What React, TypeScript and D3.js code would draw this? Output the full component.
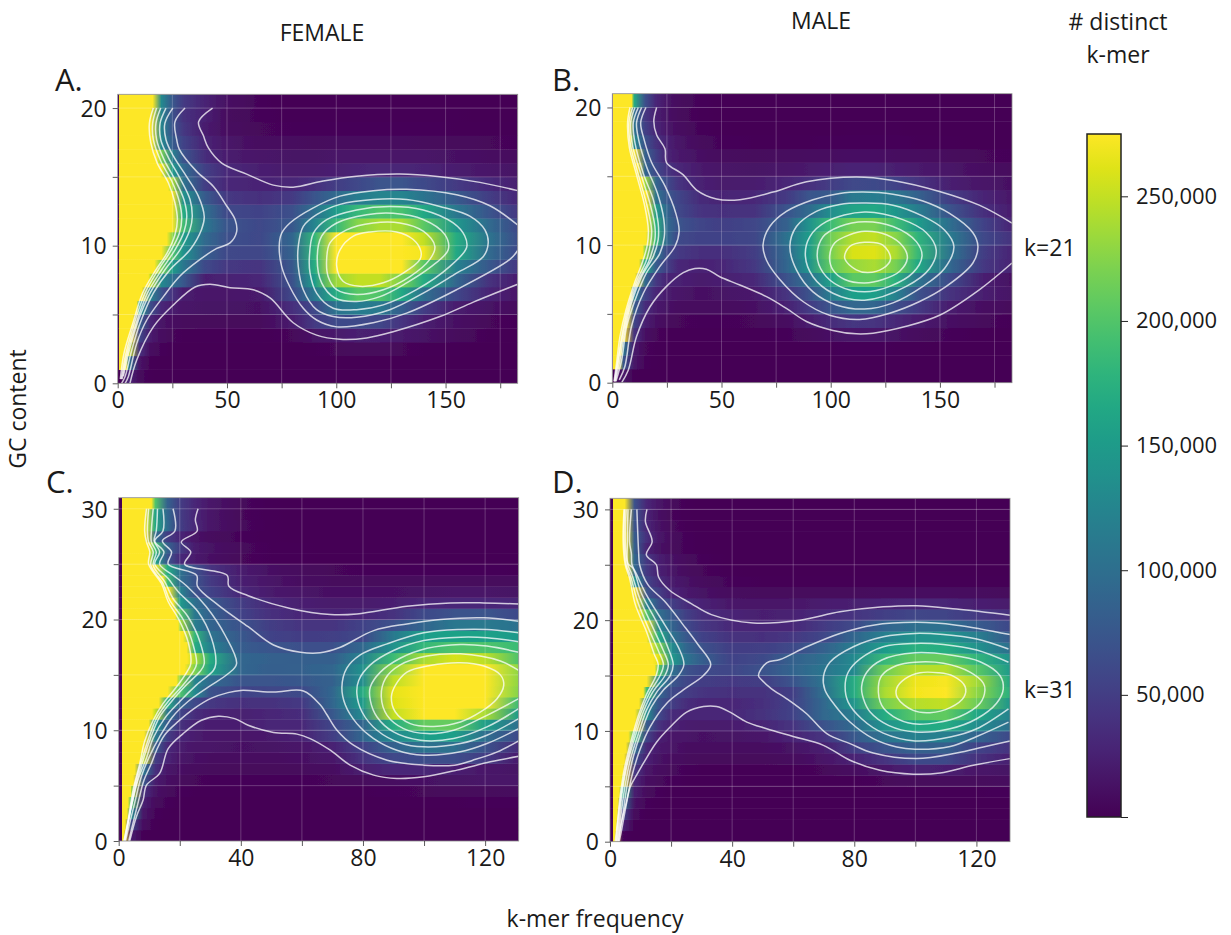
import React, { useEffect, useRef } from 'react';
import * as d3 from 'd3';

// values are thousands of distinct k-mers, W marks cells under the saturated wall
const W = 300;
const VALUE_MIN = 1;
const VALUE_MAX = 275;

const colsK21 = [5, 10, 15, 20, 25, 30, 40, 50, 65, 80, 90, 100, 110, 120, 130, 140, 155, 170, 183];
const colsK31 = [4, 8, 12, 16, 20, 25, 30, 40, 50, 60, 70, 80, 90, 100, 110, 120, 131];

const wallA = [0, 3.8, 4.9, 5.6, 7, 8.7, 11, 14, 16.8, 19.7, 22.4, 24.4, 24.7, 24.3, 23, 19.7, 17.8, 15.5, 14.3, 14.8, 16];
const wallB = [0, 2.7, 4, 5, 6.2, 7.3, 8.5, 10.4, 12.2, 13.9, 15.4, 16, 16, 15.4, 13.7, 11.6, 10, 8.4, 7.8, 7.8, 8.8];
const wallC = [1.6, 2, 2.7, 3, 3.9, 4.7, 5.2, 6.9, 7.6, 8.3, 9.8, 10.9, 13.1, 16, 18.9, 21.6, 22.4, 22.2, 21.1, 19.5, 18.5, 17.8, 16.2, 14.5, 11.8, 9.8, 9.8, 8.6, 8.5, 8.5, 10.7];
const wallD = [1.5, 1.9, 2.2, 2.5, 3, 3.6, 4.1, 4.6, 5.2, 6, 7.4, 8.2, 9.5, 10.9, 12, 14.6, 14.1, 13, 11.9, 10.8, 9.7, 8.6, 7.5, 6.4, 5.4, 4.8, 4.8, 4.8, 4.6, 4.6, 4.8];

const heatA = [
  [30, 8, 3, 2, 1, 1, 1, 1, 1, 1, 1, 1, 1, 1, 1, 1, 1, 1, 1],
  [110, 15, 4, 2, 2, 1, 1, 1, 1, 1, 1, 2, 2, 2, 2, 1, 1, 1, 1],
  [250, 40, 10, 5, 3, 2, 2, 2, 2, 2, 4, 6, 7, 7, 6, 4, 3, 2, 1],
  [W, 60, 22, 10, 6, 4, 3, 3, 3, 6, 14, 20, 25, 24, 20, 14, 8, 4, 2],
  [W, 85, 30, 15, 10, 8, 7, 7, 7, 22, 48, 62, 62, 58, 42, 24, 12, 6, 4],
  [W, 150, 65, 32, 22, 17, 14, 14, 13, 38, 60, 105, 115, 112, 82, 50, 22, 14, 8],
  [W, W, 120, 70, 42, 22, 18, 18, 20, 62, 110, 170, 205, 200, 165, 100, 58, 28, 16],
  [W, W, 250, 130, 100, 75, 24, 26, 30, 70, 150, 235, 250, 250, 220, 170, 90, 40, 22],
  [W, W, W, 220, 150, 110, 62, 45, 42, 75, 170, 278, 310, 310, 280, 205, 120, 75, 45],
  [W, W, W, 280, 200, 140, 82, 60, 58, 85, 180, 300, 330, 335, 320, 270, 165, 95, 62],
  [W, W, W, W, 230, 150, 95, 68, 60, 90, 180, 280, 320, 320, 300, 250, 170, 105, 65],
  [W, W, W, W, W, 190, 110, 72, 60, 75, 125, 185, 225, 240, 240, 205, 145, 95, 62],
  [W, W, W, W, W, 170, 100, 60, 55, 68, 100, 150, 185, 200, 195, 165, 110, 72, 45],
  [W, W, W, W, W, 140, 78, 45, 38, 48, 72, 95, 115, 125, 125, 105, 78, 50, 32],
  [W, W, W, W, 240, 105, 50, 32, 27, 30, 38, 50, 60, 72, 72, 62, 48, 34, 24],
  [W, W, W, 270, 150, 95, 52, 33, 24, 20, 21, 24, 28, 30, 30, 28, 22, 18, 14],
  [W, W, W, 220, 120, 72, 36, 22, 16, 14, 14, 15, 16, 16, 16, 15, 13, 11, 9],
  [W, W, W, 130, 80, 55, 28, 16, 10, 9, 8, 9, 9, 9, 9, 8, 7, 6, 5],
  [W, W, W, 125, 72, 45, 22, 10, 6, 5, 5, 5, 5, 5, 5, 5, 4, 3, 3],
  [W, W, W, 125, 70, 40, 26, 9, 5, 3, 3, 3, 3, 3, 3, 3, 3, 2, 2],
  [W, W, W, 130, 75, 48, 27, 12, 5, 2, 2, 2, 2, 2, 2, 2, 2, 2, 2],
];

const heatB = [
  [18, 3, 1, 1, 1, 1, 1, 1, 1, 1, 1, 1, 1, 1, 1, 1, 1, 1, 1],
  [75, 16, 5, 3, 2, 2, 1, 1, 1, 1, 1, 2, 2, 2, 2, 1, 1, 1, 1],
  [110, 20, 6, 4, 3, 2, 2, 2, 2, 2, 3, 4, 5, 5, 4, 3, 2, 2, 1],
  [W, 42, 12, 6, 4, 3, 3, 3, 3, 5, 8, 13, 18, 18, 14, 9, 5, 3, 2],
  [W, 58, 25, 12, 8, 6, 5, 5, 6, 10, 22, 35, 44, 42, 32, 22, 12, 7, 4],
  [W, 80, 36, 20, 14, 10, 9, 9, 12, 26, 48, 72, 92, 90, 66, 48, 22, 11, 7],
  [W, 120, 55, 30, 22, 17, 12, 14, 20, 42, 70, 115, 155, 155, 120, 70, 40, 24, 14],
  [W, W, 95, 45, 28, 26, 20, 24, 32, 70, 100, 155, 205, 208, 175, 105, 62, 24, 12],
  [W, W, 165, 80, 52, 32, 26, 30, 45, 90, 140, 208, 232, 240, 218, 165, 90, 45, 27],
  [W, W, 230, 108, 60, 48, 38, 38, 50, 92, 150, 218, 258, 262, 240, 185, 105, 50, 28],
  [W, W, W, 180, 92, 62, 55, 55, 58, 104, 150, 215, 245, 250, 225, 178, 112, 60, 40],
  [W, W, W, 175, 95, 72, 57, 52, 58, 85, 140, 188, 218, 220, 190, 150, 98, 55, 28],
  [W, W, W, 150, 90, 62, 42, 38, 40, 72, 95, 135, 160, 165, 145, 115, 70, 38, 22],
  [W, W, W, 105, 75, 58, 35, 28, 31, 48, 72, 78, 112, 115, 108, 85, 50, 28, 18],
  [W, W, 235, 90, 62, 42, 26, 20, 22, 30, 38, 50, 60, 62, 55, 42, 24, 16, 12],
  [W, W, 90, 62, 42, 32, 20, 15, 14, 16, 20, 24, 28, 27, 24, 20, 15, 11, 8],
  [W, W, 85, 52, 28, 20, 12, 9, 8, 9, 10, 11, 12, 12, 11, 10, 8, 6, 5],
  [W, 130, 68, 40, 26, 16, 8, 5, 4, 4, 4, 5, 5, 5, 5, 4, 3, 2, 2],
  [W, 105, 52, 30, 18, 10, 5, 3, 2, 2, 2, 2, 3, 3, 3, 2, 2, 2, 1],
  [W, 100, 45, 25, 14, 8, 4, 2, 1, 1, 1, 1, 1, 1, 1, 1, 1, 1, 1],
  [W, 170, 68, 30, 16, 9, 5, 3, 2, 1, 1, 1, 1, 1, 1, 1, 1, 1, 1],
];

const heatC = [
  [22, 3, 1, 1, 1, 1, 1, 1, 1, 1, 1, 1, 1, 1, 1, 1, 1],
  [62, 10, 3, 2, 1, 1, 1, 1, 1, 1, 1, 1, 1, 1, 1, 1, 1],
  [135, 18, 5, 3, 2, 2, 1, 1, 1, 1, 1, 1, 1, 1, 1, 1, 1],
  [200, 26, 8, 5, 3, 2, 2, 2, 2, 2, 2, 2, 3, 4, 4, 5, 5],
  [240, 40, 14, 8, 5, 4, 3, 3, 3, 3, 4, 4, 5, 6, 7, 8, 9],
  [W, 75, 22, 12, 8, 6, 5, 5, 5, 5, 6, 8, 11, 13, 14, 15, 15],
  [W, 110, 38, 18, 12, 9, 8, 7, 7, 8, 10, 24, 32, 30, 24, 18, 14],
  [W, 250, 50, 28, 17, 13, 11, 10, 10, 12, 18, 42, 60, 65, 65, 50, 20],
  [W, W, 80, 33, 22, 17, 15, 13, 14, 17, 26, 55, 85, 105, 100, 70, 35],
  [W, W, 115, 50, 30, 22, 18, 16, 20, 27, 50, 90, 130, 155, 155, 100, 62],
  [W, W, 145, 75, 40, 27, 23, 24, 30, 32, 58, 90, 170, 210, 210, 155, 100],
  [W, W, 250, 110, 58, 36, 28, 25, 30, 36, 75, 130, 250, 280, 280, 240, 150],
  [W, W, W, 170, 88, 60, 45, 38, 40, 47, 90, 150, 262, 300, 310, 280, 188],
  [W, W, W, W, 200, 130, 70, 55, 58, 62, 90, 170, 265, 310, 320, 305, 225],
  [W, W, W, W, 230, 125, 95, 72, 72, 75, 85, 135, 248, 310, 320, 310, 230],
  [W, W, W, W, W, 220, 160, 90, 82, 85, 90, 138, 228, 285, 300, 280, 230],
  [W, W, W, W, W, 240, 170, 90, 85, 82, 82, 122, 188, 240, 258, 248, 198],
  [W, W, W, W, W, 170, 120, 80, 72, 68, 68, 92, 140, 183, 200, 198, 188],
  [W, W, W, W, W, 180, 105, 75, 55, 50, 52, 60, 112, 152, 158, 158, 148],
  [W, W, W, W, 240, 115, 88, 70, 50, 42, 42, 55, 68, 90, 110, 112, 102],
  [W, W, W, W, 205, 110, 85, 55, 38, 30, 27, 30, 40, 62, 70, 72, 62],
  [W, W, W, W, 150, 100, 78, 50, 32, 24, 20, 20, 24, 30, 32, 32, 30],
  [W, W, W, W, 125, 70, 55, 32, 20, 15, 12, 12, 13, 14, 15, 15, 14],
  [W, W, W, 190, 100, 70, 48, 25, 15, 10, 8, 8, 8, 8, 8, 8, 8],
  [W, W, W, 170, 105, 68, 42, 22, 12, 8, 6, 5, 5, 5, 5, 5, 4],
  [W, W, 160, 72, 34, 20, 12, 6, 4, 3, 2, 2, 2, 2, 2, 2, 2],
  [W, W, 190, 85, 50, 22, 14, 7, 4, 3, 2, 2, 2, 2, 2, 2, 2],
  [W, W, 100, 50, 30, 15, 9, 5, 3, 2, 1, 1, 1, 1, 1, 1, 1],
  [W, W, 165, 95, 52, 32, 17, 7, 3, 2, 1, 1, 1, 1, 1, 1, 1],
  [W, W, 160, 90, 50, 30, 16, 6, 3, 2, 1, 1, 1, 1, 1, 1, 1],
  [W, W, 200, 85, 50, 30, 18, 7, 3, 2, 1, 1, 1, 1, 1, 1, 1],
];

const heatD = [
  [6, 1, 1, 1, 1, 1, 1, 1, 1, 1, 1, 1, 1, 1, 1, 1, 1],
  [28, 3, 1, 1, 1, 1, 1, 1, 1, 1, 1, 1, 1, 1, 1, 1, 1],
  [60, 8, 3, 2, 1, 1, 1, 1, 1, 1, 1, 1, 1, 1, 1, 1, 1],
  [105, 14, 5, 3, 2, 2, 2, 2, 2, 2, 2, 2, 2, 2, 2, 2, 2],
  [170, 24, 8, 5, 3, 3, 2, 2, 2, 2, 2, 2, 3, 4, 4, 4, 5],
  [260, 32, 11, 7, 5, 4, 3, 3, 3, 3, 3, 4, 6, 7, 8, 8, 9],
  [W, 45, 16, 10, 7, 5, 4, 4, 4, 4, 6, 10, 18, 26, 24, 16, 14],
  [W, 65, 26, 14, 10, 8, 7, 7, 7, 9, 15, 27, 42, 62, 62, 40, 25],
  [W, 100, 32, 20, 15, 11, 10, 10, 11, 14, 24, 52, 72, 85, 85, 55, 42],
  [W, 190, 55, 25, 18, 15, 13, 14, 18, 28, 42, 75, 105, 120, 118, 88, 62],
  [W, 280, 80, 40, 27, 22, 20, 22, 29, 42, 70, 95, 140, 165, 168, 135, 100],
  [W, W, 135, 60, 36, 29, 30, 32, 40, 55, 92, 115, 170, 205, 208, 165, 122],
  [W, W, 130, 72, 52, 36, 30, 30, 38, 55, 92, 145, 218, 245, 250, 215, 145],
  [W, W, 190, 90, 62, 50, 42, 38, 40, 52, 100, 170, 240, 270, 275, 230, 175],
  [W, W, W, 130, 75, 58, 50, 46, 50, 72, 105, 170, 235, 268, 272, 238, 165],
  [W, W, W, 200, 105, 70, 62, 58, 70, 88, 108, 130, 215, 245, 245, 205, 150],
  [W, W, W, 262, 150, 105, 82, 55, 62, 85, 100, 130, 185, 210, 210, 180, 140],
  [W, W, W, 225, 135, 90, 70, 50, 52, 62, 85, 115, 150, 175, 172, 140, 100],
  [W, W, W, 170, 108, 75, 55, 40, 38, 45, 58, 90, 118, 142, 142, 118, 78],
  [W, W, W, 130, 90, 62, 45, 32, 30, 32, 48, 62, 88, 100, 100, 80, 60],
  [W, W, 200, 100, 78, 52, 38, 28, 24, 26, 34, 42, 52, 58, 56, 48, 38],
  [W, W, 120, 68, 52, 36, 27, 18, 15, 18, 22, 25, 28, 30, 29, 24, 20],
  [W, W, 72, 50, 30, 20, 14, 9, 8, 8, 8, 8, 9, 10, 10, 9, 8],
  [W, 140, 55, 36, 22, 14, 9, 5, 4, 4, 4, 4, 4, 4, 4, 4, 4],
  [W, 95, 45, 26, 16, 9, 6, 3, 2, 2, 2, 2, 2, 2, 2, 2, 2],
  [W, 92, 45, 25, 14, 8, 5, 2, 2, 1, 1, 1, 1, 1, 1, 1, 1],
  [W, 85, 28, 14, 8, 5, 3, 2, 1, 1, 1, 1, 1, 1, 1, 1, 1],
  [W, 80, 38, 18, 9, 5, 3, 1, 1, 1, 1, 1, 1, 1, 1, 1, 1],
  [W, 72, 30, 14, 7, 4, 2, 1, 1, 1, 1, 1, 1, 1, 1, 1, 1],
  [W, 72, 28, 12, 6, 3, 2, 1, 1, 1, 1, 1, 1, 1, 1, 1, 1],
  [W, 70, 30, 16, 8, 4, 2, 1, 1, 1, 1, 1, 1, 1, 1, 1, 1],
];

// contour lines as [k-mer frequency, GC content]
const linesA = [
  [[5.6, 0], [8.7, 1.7], [16.3, 4.1], [25.5, 5.7], [35.4, 7], [42.2, 7.2], [51.4, 6.95], [62, 6.8], [69.7, 6.2], [80.3, 4.4], [91, 3.5], [101.7, 3.2], [113.9, 3.3], [126, 3.75], [147.4, 4.85], [162.7, 5.9], [183, 7.2]],
  [[43.4, 20], [37, 19], [39.2, 18], [41.5, 17.1], [47.6, 16], [59, 15.2], [71.2, 14.4], [80.3, 14.25], [94, 14.7], [109.3, 15.05], [129.1, 15.2], [147.4, 15], [165.7, 14.6], [183, 14]],
  [[30.8, 20], [26.2, 19], [27, 17.7], [28.2, 17], [36.1, 15.4], [43.8, 14.3], [49.8, 12.9], [53.7, 11.9], [54.4, 11], [51.4, 10.2], [45.3, 9.8], [37.7, 9], [28.5, 7.8], [20.9, 6.3], [13.3, 4.6], [8.7, 2.9], [4.9, 0.5], [3.4, 0]],
  [[183, 11.5], [170.3, 12.9], [155, 13.7], [132.2, 14.1], [116.9, 14], [101.7, 13.6], [89.5, 12.75], [78.8, 11.65], [75, 10.9], [73.9, 10], [75, 8.5], [78.8, 7], [84.9, 5.45], [91, 4.6], [100.2, 4.1], [116.9, 4.4], [132.2, 5.1], [155, 6.8], [179.4, 9], [183, 9.65]],
  [[25.2, 20], [21.6, 18.9], [22.1, 17.7], [25.5, 16.5], [31.6, 15], [36.9, 13.6], [39.6, 12.1], [38.4, 11.2], [33.1, 9.7], [23.9, 8.25], [16.3, 6.55], [10.2, 4.35], [6.4, 2.4], [3.4, 0.5], [1.8, 0]],
  [[22.1, 20], [19.4, 18.9], [19.7, 17.7], [23.2, 16.4], [28.5, 14.9], [33.1, 13.35], [34.1, 12.1], [33.1, 11.2], [28.5, 9.7], [21.6, 8.25], [14.8, 6.55], [9.5, 4.6], [5.3, 2.4], [2.6, 0.5]],
  [[19.7, 20], [17.5, 18.9], [17.8, 17.7], [21.2, 16.25], [26.2, 14.8], [30.3, 13.35], [31.6, 12.1], [30.3, 11], [26.2, 9.7], [20.1, 8.25], [13.6, 6.55], [8.4, 4.35], [4.4, 2.2], [2, 0.3]],
  [[17.8, 20], [16, 18.9], [16.3, 17.7], [19.7, 16.15], [24.7, 14.7], [28.2, 13.2], [29.3, 12], [28.2, 10.9], [24.2, 9.6], [18.6, 8.25], [12.5, 6.55], [7.6, 4.35], [3.8, 2.2], [1.6, 0.3]],
  [[16.3, 20], [14.5, 18.9], [15.1, 17.5], [18.1, 16], [23.2, 14.55], [26.2, 13.1], [27.3, 11.9], [26.2, 10.8], [22.7, 9.5], [17.1, 8.15], [11.4, 6.55], [6.9, 4.35], [2.9, 2.2], [1.2, 0.3]],
];
const ringsA = [
  [[82.6, 9.95], [84.9, 11.4], [91, 12.25], [101.7, 13], [116.9, 13.35], [132.2, 13.35], [147.4, 12.85], [161.1, 12.15], [168, 11.15], [169.5, 10.2], [167.2, 9.2], [155, 8], [139.8, 6.55], [124.5, 5.35], [109.3, 4.8], [98.6, 4.85], [91, 5.35], [84.9, 6.8], [82.6, 8.5]],
  [[87.7, 9.2], [89.5, 10.9], [95.6, 11.9], [109.3, 12.6], [124.5, 12.85], [139.8, 12.6], [153.5, 11.65], [158.8, 10.7], [159.6, 9.85], [152, 8.5], [136.7, 6.8], [121.5, 5.7], [109.3, 5.35], [98.6, 5.45], [91, 6.55], [88, 8]],
  [[91.3, 9.2], [93.3, 10.7], [100.2, 11.65], [113.9, 12.25], [126, 12.35], [139.8, 11.9], [149.7, 10.8], [151.2, 9.7], [142.8, 8.4], [132.2, 7.3], [120, 6.3], [109.3, 5.95], [99.4, 6.2], [93.3, 7.3]],
  [[95.6, 9], [97.1, 10.2], [104.7, 11.15], [116.9, 11.65], [129.1, 11.65], [139.8, 11.05], [145.1, 9.95], [142.8, 9], [133.7, 7.75], [121.5, 6.8], [109.3, 6.45], [100.2, 6.8], [96.3, 7.75]],
  [[100.2, 8.5], [101.7, 9.7], [107.8, 10.7], [115.4, 11], [127.6, 11], [135.2, 10.45], [138.7, 9.6], [138.3, 9], [130.6, 8], [121.5, 7.3], [110.8, 7.05], [103.2, 7.4]],
];

const linesB = [
  [[20.3, 20], [19, 19], [20.3, 18], [24.1, 17], [24.8, 16], [32.5, 15.1], [38.6, 14], [47.7, 13.35], [58.4, 13.3], [73.6, 13.85], [88.9, 14.6], [111.7, 14.95], [128.5, 14.7], [149.8, 13.9], [168, 12.9], [183, 11.6]],
  [[183, 8.7], [168, 6.75], [149.8, 4.9], [134.6, 4.1], [119.4, 3.6], [111.7, 3.55], [101, 3.8], [88.9, 4.45], [79.7, 5.4], [70.6, 6.25], [58.4, 7.1], [49.2, 7.7], [43.1, 8.25], [37.8, 8.3], [32.5, 8], [24.8, 7], [17.2, 5.5], [11.1, 3.35], [7.3, 0.9], [4.3, 0]],
  [[15.4, 20], [13, 18.9], [14.5, 17.7], [18, 16], [24.1, 14.3], [29.1, 12.3], [30.6, 11], [28.7, 9.9], [21.8, 8.45], [14.2, 6.5], [8.8, 4.1], [5.8, 1.2], [3.2, 0.2]],
  [[13.4, 20], [11.1, 18.9], [12, 17.7], [15.7, 15.7], [20.6, 13.8], [23.6, 11.85], [23.8, 10.6], [21.8, 9.4], [15.7, 8], [10.4, 6], [6.6, 4.1], [4.3, 1.65], [1.7, 0.1]],
  [[11.9, 20], [9.6, 18.9], [10.4, 17.4], [14.2, 15.2], [18.8, 13.3], [21, 11.6], [21, 10.4], [18.8, 9.2], [13.4, 7.7], [8.8, 5.8], [5.8, 3.8], [3.5, 1.65], [1.4, 0.1]],
  [[10.4, 20], [8.4, 18.9], [9.3, 17.2], [13.4, 15], [17.2, 13.05], [19.5, 11.35], [19.5, 10.4], [16.9, 8.9], [12.2, 7.5], [7.8, 5.5], [5, 3.6], [2.8, 1.6], [1.2, 0.1]],
  [[9.3, 20], [7.6, 18.9], [8.4, 17.2], [12.3, 14.9], [16, 12.8], [18, 11.1], [17.5, 10.1], [15.4, 8.8], [11.1, 7.35], [6.9, 5.3], [4.3, 3.35], [2.4, 1.5], [1, 0.1]],
  [[8.1, 20], [7, 18.9], [7.8, 17.1], [11.1, 15.1], [14.9, 12.8], [16.5, 11.1], [16, 10], [13.9, 8.8], [10.4, 7.35], [6.3, 5.3], [3.5, 3.35], [2, 1.5], [0.8, 0.1]],
];
const ringsB = [
  [[69, 10], [72.1, 11.35], [79.7, 12.45], [91.9, 13.3], [104.1, 13.75], [114.8, 13.85], [128.5, 13.7], [142.2, 13.2], [154.4, 12.3], [165.1, 10.9], [167.4, 9.9], [165.1, 8.7], [152.9, 7], [140.7, 5.9], [127, 5.05], [113.3, 4.6], [99.5, 4.9], [87.3, 5.9], [76.7, 7.5], [70.6, 8.9]],
  [[81.3, 9.9], [84.3, 11.35], [93.4, 12.45], [104.1, 12.95], [115.5, 13.05], [128.5, 12.9], [142.2, 12.1], [152.1, 11.1], [156.4, 9.9], [152.1, 8.3], [142.2, 7], [128.5, 5.8], [115.5, 5.35], [102.6, 5.65], [91.9, 6.6], [84.3, 8.2]],
  [[88.4, 9.2], [90.4, 10.6], [98, 11.7], [115.5, 12.4], [133, 11.85], [143.8, 10.9], [148.3, 9.65], [145.3, 8.3], [134.6, 7], [115.5, 6], [101, 6.5], [91.9, 7.7]],
  [[93.8, 9.2], [96.5, 10.6], [104.1, 11.35], [115.5, 11.7], [128.5, 11.35], [139.2, 10.25], [141.8, 9.2], [137.7, 8], [127, 7], [115.5, 6.6], [104.1, 7], [96.5, 8]],
  [[99.5, 9.2], [101.8, 10.15], [108.7, 10.75], [115.5, 11], [125.5, 10.75], [133.1, 9.9], [135.1, 9.05], [131.6, 8.1], [123.9, 7.5], [115.5, 7.25], [106.4, 7.5], [101, 8.2]],
  [[106.4, 9.05], [108.7, 9.9], [115.5, 10.2], [123.9, 10], [127.4, 9], [123.9, 8.3], [117, 8], [111.7, 8.2]],
];

const linesC = [
  [[131, 7.65], [121.7, 7.15], [110.8, 6.4], [99.9, 5.8], [91.1, 5.65], [83.5, 5.95], [75.8, 6.85], [69.3, 8.2], [62.7, 9.25], [58.4, 9.65], [50.7, 9.8], [42.4, 10.45], [38, 11.05], [32.6, 11.27], [27.1, 10.9], [21.1, 9.7], [16.2, 8.35], [13.4, 6.1], [9.1, 5.05], [8, 3.7], [5.8, 2.2], [3.6, 0]],
  [[26, 30], [25.1, 29], [25.7, 28], [20.5, 27], [23.6, 26.1], [21.6, 25], [35.5, 24], [36.1, 23], [42.4, 22.15], [56.2, 21], [69.3, 20.45], [78, 20.5], [94.4, 21.2], [108.6, 21.5], [119.6, 21.5], [131, 21.4]],
  [[17.8, 30], [18.4, 28], [14.3, 27.1], [17.3, 26.1], [16.2, 25], [25.5, 24], [25.8, 23], [32.6, 21.3], [42.4, 19.35], [50.7, 17.7], [59.5, 17.05], [66, 17], [72.6, 17.5], [83.5, 19], [94.4, 19.6], [105.4, 20], [119.6, 20.15], [131, 19.85]],
  [[3.3, 0], [4.4, 1.3], [6.3, 3.4], [8.3, 5.5], [10.7, 7], [12.4, 8.2], [15.1, 9.6], [19.5, 10.8], [24.9, 12], [30.4, 12.9], [35.8, 13.4], [40, 13.6], [50.7, 13.45], [60.5, 13.55], [66, 12.3], [68.2, 11.4], [71.5, 10], [76.9, 8.65], [87.9, 7.3], [99.9, 6.85], [110, 6.85], [116, 7.3], [124, 8.05], [131, 9.05]],
  [[14.5, 30], [14.5, 28], [11.8, 27.1], [14.8, 26.1], [13.4, 25], [17.8, 24], [22.2, 23.05], [28.7, 21.15], [34.8, 18.6], [38.6, 16], [35.8, 15.1], [29.3, 13.9], [22.7, 12.6], [17.6, 11.2], [13.4, 9.4], [10, 7.6], [7.4, 5.8], [5.2, 3.4], [3.6, 1.6], [2.2, 0]],
  [[12.7, 30], [12.3, 28], [11.6, 27.1], [13.4, 26.1], [11.8, 25], [16.2, 23.7], [19.5, 22.5], [26, 20.7], [30.4, 18.3], [31.8, 16], [31, 15.4], [25.5, 14.1], [20, 12.6], [15.1, 11.1], [11.3, 9.3], [9.1, 7.5], [6.3, 5.5], [4.4, 3.4], [2.8, 1.3], [2, 0]],
  [[11.3, 30], [10.7, 28], [10.7, 27], [12.3, 26.1], [11.3, 24.9], [15.1, 23.4], [17.8, 21.9], [22.7, 20.25], [26.6, 18], [28, 16], [26.6, 15.3], [22.2, 14.1], [17.3, 12.6], [13.4, 11.2], [10.2, 9.1], [8, 7.3], [5.8, 5.2], [3.9, 2.8], [2.5, 0.7], [1.9, 0]],
  [[9.8, 30], [9.4, 28], [9.8, 27], [11.3, 26.1], [10.5, 24.9], [14.5, 23.25], [16.7, 21.75], [21.1, 20], [24.4, 17.7], [25.5, 16], [24.4, 15.3], [20.5, 13.9], [16.2, 12.6], [12.4, 11.1], [9.6, 9.1], [7.4, 7.2], [5.2, 4.9], [3.4, 2.2], [1.8, 0]],
  [[9.1, 30], [8.5, 28], [9.1, 27], [10.2, 26.1], [9.8, 25], [14, 23.25], [16.2, 21.6], [19.5, 20.1], [22.7, 18], [23.6, 16], [22.4, 15.3], [18.9, 13.9], [14.5, 12.4], [11.3, 10.9], [8.5, 9], [6.9, 7], [4.7, 4.6], [3.1, 1.9], [1.7, 0]],
  [[131, 18.8], [120.6, 19.1], [111.9, 19.1], [99.9, 18.8], [87.9, 17.8], [79.1, 16.8], [74.7, 15.6], [73.1, 13.9], [74.2, 12.3], [78, 10.6], [83.5, 9.25], [91.1, 8.2], [99.9, 7.75], [111.9, 8.05], [120.6, 8.8], [131, 10.15]],
  [[131, 18], [120.6, 18.35], [111.9, 18.4], [99.9, 18.1], [90, 17.2], [82.4, 15.9], [78.6, 14.5], [78, 13.3], [79.7, 11.65], [84.6, 10], [92.2, 8.85], [99.9, 8.5], [111.9, 8.8], [120.6, 9.55], [131, 11.05]],
  [[131, 17.05], [120.6, 17.6], [111.9, 17.75], [101, 17.4], [92.2, 16.5], [85.7, 15.25], [82.4, 13.9], [82.4, 12.7], [84.6, 11.2], [90, 9.85], [98.8, 9.1], [109.7, 9.25], [120.6, 10.3], [131, 11.95]],
  [[131, 15.4], [125, 16.25], [111.9, 16.9], [101, 16.7], [92.2, 15.9], [87.3, 14.65], [86, 13], [87.9, 11.35], [93.3, 10.15], [101, 9.7], [109.7, 10], [120.6, 11.35], [131, 12.85]],
];
const ringsC = [
  [[89.3, 13], [90.6, 14.05], [94.4, 15.25], [102, 15.85], [111.9, 16.1], [119.6, 15.8], [125, 15], [126.1, 14.05], [123.9, 12.85], [118.5, 11.65], [111.9, 10.75], [103.2, 10.35], [95.5, 10.6], [90.6, 11.65]],
];

const linesD = [
  [[12.1, 30], [11.6, 28.9], [13.8, 27.1], [11.9, 25.9], [15.2, 25], [15.9, 23.9], [19.5, 22.7], [26.6, 21.5], [33.2, 20.5], [46.9, 19.75], [62.2, 20], [75.3, 20.75], [89.5, 21.2], [100.4, 21.3], [113.5, 21], [131, 20.45]],
  [[131, 7.5], [119, 6.9], [108.1, 6.2], [99.3, 6.1], [88.4, 6.45], [78.6, 7.35], [69.9, 8.7], [60, 9.5], [51.3, 10.2], [44.8, 10.8], [39.3, 11.7], [34.9, 12.2], [30.6, 12.2], [25.1, 11.7], [19.7, 10.35], [15.3, 9], [11.5, 7.35], [8.7, 6], [6.7, 5], [5.2, 3.15], [3.8, 1.05], [3, 0]],
  [[8.8, 30], [9.2, 27.1], [9.4, 26], [9.7, 25], [12.4, 23.2], [17.9, 21.7], [23.9, 19.6], [28.8, 17.8], [33, 16], [30.6, 15], [24, 13.7], [18.6, 12.5], [13.1, 10.35], [9.8, 8.3], [7.1, 5.85], [5.5, 3.75], [3.4, 1.35], [2.8, 0]],
  [[131, 18.7], [113.5, 19.55], [100.4, 19.8], [86.2, 19.55], [75.3, 18.8], [64.4, 17.6], [55.7, 16.45], [51.3, 16.15], [48.6, 15], [49.7, 14.6], [52.9, 13.8], [57.9, 12.9], [64.4, 11.55], [71, 9.75], [78.6, 8.85], [86.2, 8], [100.4, 7.5], [113.5, 8], [122.3, 8.55], [131, 9.1]],
  [[7, 30], [6.4, 27.1], [7, 26], [7.2, 25], [8.6, 24.2], [11.9, 22.3], [17.9, 19.6], [22.5, 17.5], [24.2, 16], [22.4, 15], [17.5, 13.7], [13.6, 12.2], [10.4, 10.05], [7.6, 7.65], [5.7, 5.25], [4.1, 2.25], [2.7, 0]],
  [[5.9, 30], [5.7, 27.1], [5.9, 25.1], [7.5, 24.7], [10.3, 22.4], [15.7, 19.6], [19, 17.5], [20.7, 16], [19.7, 15], [15.3, 13.5], [12, 11.9], [9.3, 9.75], [6.6, 7.35], [4.9, 5], [3.5, 2.25], [2.4, 0]],
  [[5.3, 30], [5, 27.1], [5.7, 25.1], [7.2, 24.1], [9.7, 22], [14.1, 19.3], [17.4, 17.3], [19.1, 16], [18, 15], [14, 13.5], [10.9, 11.7], [8.2, 9.45], [5.7, 7.05], [4.1, 4.65], [3.1, 2.25], [2.2, 0]],
  [[4.8, 30], [4.6, 27.1], [5.3, 25], [6.8, 23.9], [9, 21.7], [13, 19], [15.9, 17.2], [17.5, 16], [16.4, 15], [12.9, 13.4], [10, 11.55], [7.4, 9.15], [5.2, 6.75], [3.7, 4.35], [2.6, 1.95], [2, 0]],
  [[4.6, 30], [4.3, 27.1], [5, 25], [6.4, 23.8], [8.3, 21.4], [11.9, 19], [14.4, 17], [15.8, 16], [15.1, 15], [11.8, 13.2], [9.3, 11.4], [6.8, 9], [4.6, 6.45], [3.3, 4.05], [2.4, 1.65], [1.7, 0]],
  [[130.5, 17.4], [120.1, 18.3], [109.2, 18.7], [99.9, 18.8], [89.5, 18.5], [79.7, 17.6], [72, 16.2], [69.9, 14.9], [70.4, 13.7], [73.7, 12.3], [78.6, 10.8], [86.2, 9.3], [93.9, 8.55], [99.9, 8.35], [111.4, 8.6], [120.1, 9.5], [130.5, 10.8]],
  [[130.5, 16.2], [120.1, 17.3], [109.2, 17.8], [99.9, 17.9], [89.5, 17.6], [81.9, 16.5], [78, 15.3], [77, 14], [78, 12.6], [82.4, 11.1], [89.5, 9.8], [99.9, 9.1], [111.4, 9.45], [120.1, 10.2], [130.5, 12]],
];
const ringsD = [
  [[82.4, 14], [84.1, 15.3], [89, 16.4], [99.9, 17.05], [111.4, 16.85], [121.2, 16.25], [127.7, 15], [128.8, 13.8], [126.6, 12.5], [120.1, 11.1], [111.4, 10.2], [99.9, 9.9], [91.2, 10.5], [85.2, 11.7], [83, 12.9]],
  [[87.9, 14], [89, 15], [93.9, 15.9], [99.9, 16.2], [109.2, 16.1], [117.9, 15.3], [122.3, 14.3], [122.8, 13.7], [121.2, 12.5], [114.6, 11.3], [107, 10.75], [99.3, 10.65], [92.8, 11.3], [89, 12.3]],
  [[93.9, 13.85], [96.6, 14.7], [101.5, 15.25], [107.5, 15.25], [112.4, 14.95], [116.3, 14], [115.9, 13.05], [111.4, 12.1], [104.8, 11.65], [99.3, 11.85], [94.1, 13]],
];

const xTicksK21 = [0, 25, 50, 75, 100, 125, 150, 175];
const xLabelsK21 = [0, 50, 100, 150];
const yTicksK21 = [0, 5, 10, 15, 20];
const yLabelsK21 = [0, 10, 20];
const xTicksK31 = [0, 20, 40, 60, 80, 100, 120];
const xLabelsK31 = [0, 40, 80, 120];
const yTicksK31 = [0, 5, 10, 15, 20, 25, 30];
const yLabelsK31 = [0, 10, 20, 30];
const barTicks = [50, 100, 150, 200, 250];

const FONT = '"Open Sans", sans-serif';
const color = d3.scaleSequential(d3.interpolateViridis).domain([VALUE_MIN, VALUE_MAX]).clamp(true);

const panels = [
  { id: 'A', box: [117.7, 94.3, 517.7, 383.3], xMax: 183, yMax: 21, cols: colsK21, wall: wallA, heat: heatA, lines: linesA, rings: ringsA, xTicks: xTicksK21, xLabels: xLabelsK21, yTicks: yTicksK21, yLabels: yLabelsK21, strip: 0.8 },
  { id: 'B', box: [612.3, 93.7, 1012, 382.7], xMax: 183, yMax: 21, cols: colsK21, wall: wallB, heat: heatB, lines: linesB, rings: ringsB, xTicks: xTicksK21, xLabels: xLabelsK21, yTicks: yTicksK21, yLabels: yLabelsK21, strip: 0.5 },
  { id: 'C', box: [118.7, 497.7, 518.7, 841], xMax: 131, yMax: 31, cols: colsK31, wall: wallC, heat: heatC, lines: linesC, rings: ringsC, xTicks: xTicksK31, xLabels: xLabelsK31, yTicks: yTicksK31, yLabels: yLabelsK31, strip: 1 },
  { id: 'D', box: [610, 498.3, 1010, 841.7], xMax: 131, yMax: 31, cols: colsK31, wall: wallD, heat: heatD, lines: linesD, rings: ringsD, xTicks: xTicksK31, xLabels: xLabelsK31, yTicks: yTicksK31, yLabels: yLabelsK31, strip: 1 },
];

const lineOpen = d3.line().curve(d3.curveCatmullRom.alpha(0.5));
const lineClosed = d3.line().curve(d3.curveCatmullRomClosed.alpha(0.5));

function rowStops(p, r) {
  const wall = p.wall[r];
  const stops = [{ f: 0, v: 0 }, { f: p.strip, v: 0 }];
  if (wall > p.strip) {
    stops.push({ f: p.strip, v: VALUE_MAX }, { f: wall, v: VALUE_MAX });
  }
  p.cols.forEach((c, i) => {
    if (c > wall) stops.push({ f: c, v: p.heat[r][i] });
  });
  return stops;
}

function Panel({ p }) {
  const [x0, y0, x1, y1] = p.box;
  const x = d3.scaleLinear().domain([0, p.xMax]).range([x0, x1]);
  const y = d3.scaleLinear().domain([0, p.yMax]).range([y1, y0]);
  const xAxisRef = useRef(null);
  const yAxisRef = useRef(null);

  useEffect(() => {
    const xa = d3.axisBottom(x).tickValues(p.xTicks)
      .tickFormat((d) => (p.xLabels.includes(d) ? String(d) : ''));
    const ya = d3.axisLeft(y).tickValues(p.yTicks)
      .tickFormat((d) => (p.yLabels.includes(d) ? String(d) : ''));
    const gx = d3.select(xAxisRef.current).call(xa);
    const gy = d3.select(yAxisRef.current).call(ya);
    [gx, gy].forEach((g) => {
      g.select('.domain').remove();
      g.selectAll('line').attr('stroke', '#333').attr('stroke-width', 0.8);
      g.selectAll('text').attr('font-family', FONT).attr('font-size', 23).attr('fill', '#1a1a1a');
    });
    gx.selectAll('line').attr('y2', 5);
    gx.selectAll('text').attr('y', 25).attr('dy', 0);
    gy.selectAll('line').attr('x2', -5);
    gy.selectAll('text').attr('x', -11).attr('dy', '0.36em');
  }, []);

  const clip = `clip-${p.id}`;
  const rows = p.heat.map((_, r) => r);
  return (
    <g>
      <defs>
        <clipPath id={clip}><rect x={x0} y={y0} width={x1 - x0} height={y1 - y0} /></clipPath>
        {rows.map((r) => (
          <linearGradient key={r} id={`row-${p.id}-${r}`}>
            {rowStops(p, r).map((s, i) => (
              <stop key={i} offset={s.f / p.xMax} stopColor={color(s.v)} />
            ))}
          </linearGradient>
        ))}
      </defs>
      <g clipPath={`url(#${clip})`}>
        <g filter="url(#soft)">
          {rows.map((r) => (
            <rect key={r} x={x0} width={x1 - x0} y={y(r + 1)} height={y(r) - y(r + 1) + 0.4} fill={`url(#row-${p.id}-${r})`} />
          ))}
        </g>
        {p.xTicks.filter((t) => t > 0).map((t) => (
          <line key={t} x1={x(t)} x2={x(t)} y1={y0} y2={y1} stroke="#fff" strokeOpacity={0.22} />
        ))}
        {p.yTicks.filter((t) => t > 0).map((t) => (
          <line key={t} x1={x0} x2={x1} y1={y(t)} y2={y(t)} stroke="#fff" strokeOpacity={0.22} />
        ))}
        <g filter="url(#softLine)" fill="none" stroke="#fff" strokeOpacity={0.75} strokeWidth={1.5}>
          {p.lines.map((l, i) => (
            <path key={i} d={lineOpen(l.map(([f, g]) => [x(f), y(g)]))} />
          ))}
          {p.rings.map((l, i) => (
            <path key={i} d={lineClosed(l.map(([f, g]) => [x(f), y(g)]))} />
          ))}
        </g>
      </g>
      <rect x={x0} y={y0} width={x1 - x0} height={y1 - y0} fill="none" stroke="#8a8a8a" strokeWidth={0.8} />
      <g ref={xAxisRef} transform={`translate(0,${y1})`} />
      <g ref={yAxisRef} transform={`translate(${x0},0)`} />
    </g>
  );
}

function ColorBar() {
  const left = 1087;
  const right = 1121;
  const top = 134;
  const bottom = 817;
  const scale = d3.scaleLinear().domain([VALUE_MIN, VALUE_MAX]).range([bottom, top]);
  const axisRef = useRef(null);
  const fmt = d3.format(',');

  useEffect(() => {
    const g = d3.select(axisRef.current).call(
      d3.axisRight(scale).tickValues([VALUE_MIN, ...barTicks])
        .tickFormat((d) => (barTicks.includes(d) ? fmt(d * 1000) : '')),
    );
    g.select('.domain').remove();
    g.selectAll('line').attr('stroke', '#222').attr('x2', 7);
    g.selectAll('text').attr('x', 15).attr('font-family', FONT).attr('font-size', 22).attr('fill', '#1a1a1a');
  }, []);

  return (
    <g>
      <defs>
        <linearGradient id="bar" x1="0" y1="1" x2="0" y2="0">
          {d3.range(0, 1.001, 0.05).map((t) => (
            <stop key={t} offset={t} stopColor={d3.interpolateViridis(t)} />
          ))}
        </linearGradient>
      </defs>
      <rect x={left} y={top} width={right - left} height={bottom - top} fill="url(#bar)" stroke="#222" strokeWidth={1.5} />
      <g ref={axisRef} transform={`translate(${right},0)`} />
    </g>
  );
}

export default function App() {
  const text = { fontFamily: FONT, fill: '#1a1a1a' };
  return (
    <svg width={1231} height={935} style={{ position: 'absolute', left: 0, top: 0, background: '#fff' }}>
      <defs>
        <filter id="soft" x="-2%" y="-2%" width="104%" height="104%">
          <feGaussianBlur stdDeviation="0.6" />
        </filter>
        <filter id="softLine" x="-2%" y="-2%" width="104%" height="104%">
          <feGaussianBlur stdDeviation="0.3" />
        </filter>
      </defs>
      {panels.map((p) => <Panel key={p.id} p={p} />)}
      <ColorBar />
      <g {...text} fontSize={23} textAnchor="middle">
        <text x={322} y={41}>FEMALE</text>
        <text x={821} y={29}>MALE</text>
        <text x={1118} y={30}># distinct</text>
        <text x={1118} y={63}>k-mer</text>
        <text x={595} y={927}>k-mer frequency</text>
        <text transform="translate(26,409) rotate(-90)">GC content</text>
      </g>
      <g {...text} fontSize={23}>
        <text x={1024} y={256}>k=21</text>
        <text x={1024} y={698}>k=31</text>
      </g>
      <g {...text} fontSize={31}>
        <text x={55} y={91}>A.</text>
        <text x={552} y={91}>B.</text>
        <text x={46} y={493}>C.</text>
        <text x={552} y={493}>D.</text>
      </g>
    </svg>
  );
}
